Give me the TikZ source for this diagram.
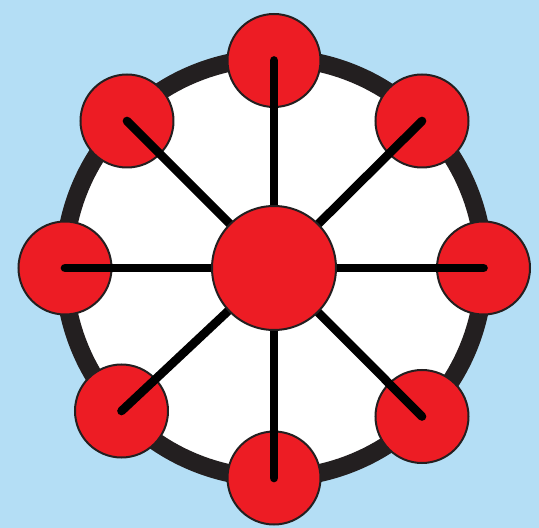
\documentclass[tikz,border=0pt]{standalone}
\usepackage{xcolor}
\usepackage{tikz}
\usetikzlibrary{shapes, calc}
\definecolor{C_SKY} {HTML}{B4DEF5}
\definecolor{C_RED} {HTML}{ED1C24}
\definecolor{C_RIM} {HTML}{231F20}
\tikzset{
  %% -- outer ring of the wheel --
  WH/rim/.style={draw=C_RIM, line width=13.5pt, fill=white},
  %% -- small node on the ring --
  WH/node/.style={
    circle, draw=C_RIM, line width=1.5pt, fill=C_RED,
    minimum size=69.75pt, inner sep=0pt
  },
  %% -- central hub node --
  WH/hub/.style={
    circle, draw=C_RIM, line width=1.5pt, fill=C_RED,
    minimum size=93pt, inner sep=0pt
  },
  %% -- spoke from hub to ring node --
  WH/spoke/.style={draw=black, line width=6.5pt, line cap=round},
}

\begin{document}
\begin{tikzpicture}[
  x=0.75pt, y=0.75pt,
]
%% Background
\fill[C_SKY] (-274, 268) rectangle (265, -260);
\useasboundingbox (-274, 268) rectangle (265, -260);

%% Ring
\coordinate (c) at (0, 0);
\draw[WH/rim] (c) circle (210);

%% Ring nodes
\node[WH/node] (n)  at (0, 207.5)      {};
\node[WH/node] (ne) at (148, 147)      {};
\node[WH/node] (e)  at (209.5, 0)      {};
\node[WH/node] (se) at (148, -148.5)   {};
\node[WH/node] (s)  at (0, -210)       {};
\node[WH/node] (sw) at (-152.5, -143)  {};
\node[WH/node] (w)  at (-209, 0)       {};
\node[WH/node] (nw) at (-147, 147)     {};

%% Spokes
\foreach \k in {n, ne, e, se, s, sw, w, nw}
  \draw[WH/spoke] (c) -- (\k.center);

%% Hub
\node[WH/hub] (hub) at (c) {};
\end{tikzpicture}
\end{document}
